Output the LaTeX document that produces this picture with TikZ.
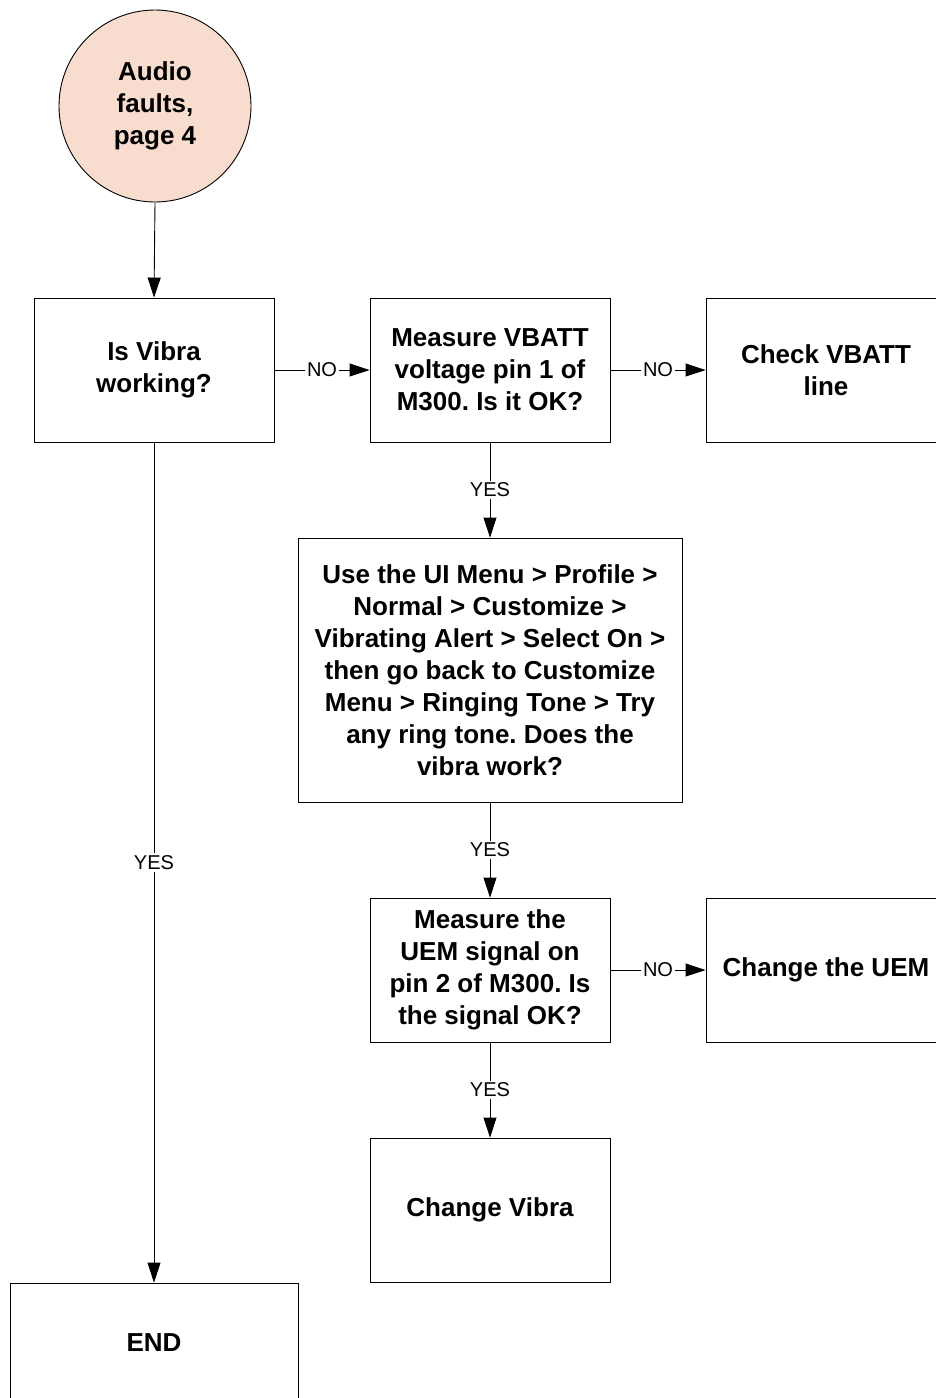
\documentclass[tikz,border=0pt]{standalone}
\usepackage{fontspec}
\setmainfont{Liberation Sans}
\frenchspacing
\usetikzlibrary{arrows.meta}
\definecolor{startfill}{RGB}{248,220,206}
\begin{document}
\begin{tikzpicture}[x=1pt,y=-1pt,
  every node/.style={font=\bfseries\fontsize{26}{32}\selectfont},
  stepbox/.style={draw=black,line width=0.9pt,fill=white,align=center,inner sep=0pt},
  flow/.style={draw=black,line width=0.9pt,-{Triangle[length=20pt,width=13pt]}},
  lbl/.style={fill=white,inner sep=2pt,font=\fontsize{20}{22}\selectfont}
]
\clip (0,0) rectangle (936,1398);
\fill[white] (0,0) rectangle (936,1398);

% start terminal
\node[draw=black,line width=0.9pt,fill=startfill,circle,minimum size=192pt,align=center,inner sep=0pt] (start) at (155,106) {Audio\\faults,\\page 4};

% process boxes
\node[stepbox,minimum width=240pt,minimum height=144pt] (vibra) at (154,370) {Is Vibra\\working?};
\node[stepbox,minimum width=240pt,minimum height=144pt] (vbatt) at (490,370) {Measure VBATT\\voltage pin 1 of\\M300. Is it OK?};
\node[stepbox,minimum width=240pt,minimum height=144pt] (chk) at (826,370) {Check VBATT\\line};
\node[stepbox,minimum width=384pt,minimum height=264pt] (menu) at (490,670) {Use the UI Menu > Profile >\\Normal > Customize >\\Vibrating Alert > Select On >\\then go back to Customize\\Menu > Ringing Tone > Try\\any ring tone. Does the\\vibra work?};
\node[stepbox,minimum width=240pt,minimum height=144pt] (uem) at (490,970) {Measure the\\UEM signal on\\pin 2 of M300. Is\\the signal OK?};
\node[stepbox,minimum width=240pt,minimum height=144pt] (chuem) at (826,970) {Change the UEM};
\node[stepbox,minimum width=240pt,minimum height=144pt] (chvib) at (490,1210) {Change Vibra};
\node[stepbox,minimum width=288pt,minimum height=120pt] (end) at (154,1343) {END};

% connectors
\draw[flow] (start.south) -- (vibra.north);
\draw[flow] (vibra.east) -- node[lbl,pos=0.5] {NO} (vbatt.west);
\draw[flow] (vbatt.east) -- node[lbl,pos=0.5] {NO} (chk.west);
\draw[flow] (vbatt.south) -- node[lbl] {YES} (menu.north);
\draw[flow] (menu.south) -- node[lbl] {YES} (uem.north);
\draw[flow] (uem.east) -- node[lbl,pos=0.5] {NO} (chuem.west);
\draw[flow] (uem.south) -- node[lbl] {YES} (chvib.north);
\draw[flow] (vibra.south) -- node[lbl,pos=0.5] {YES} (end.north);
\end{tikzpicture}
\end{document}
